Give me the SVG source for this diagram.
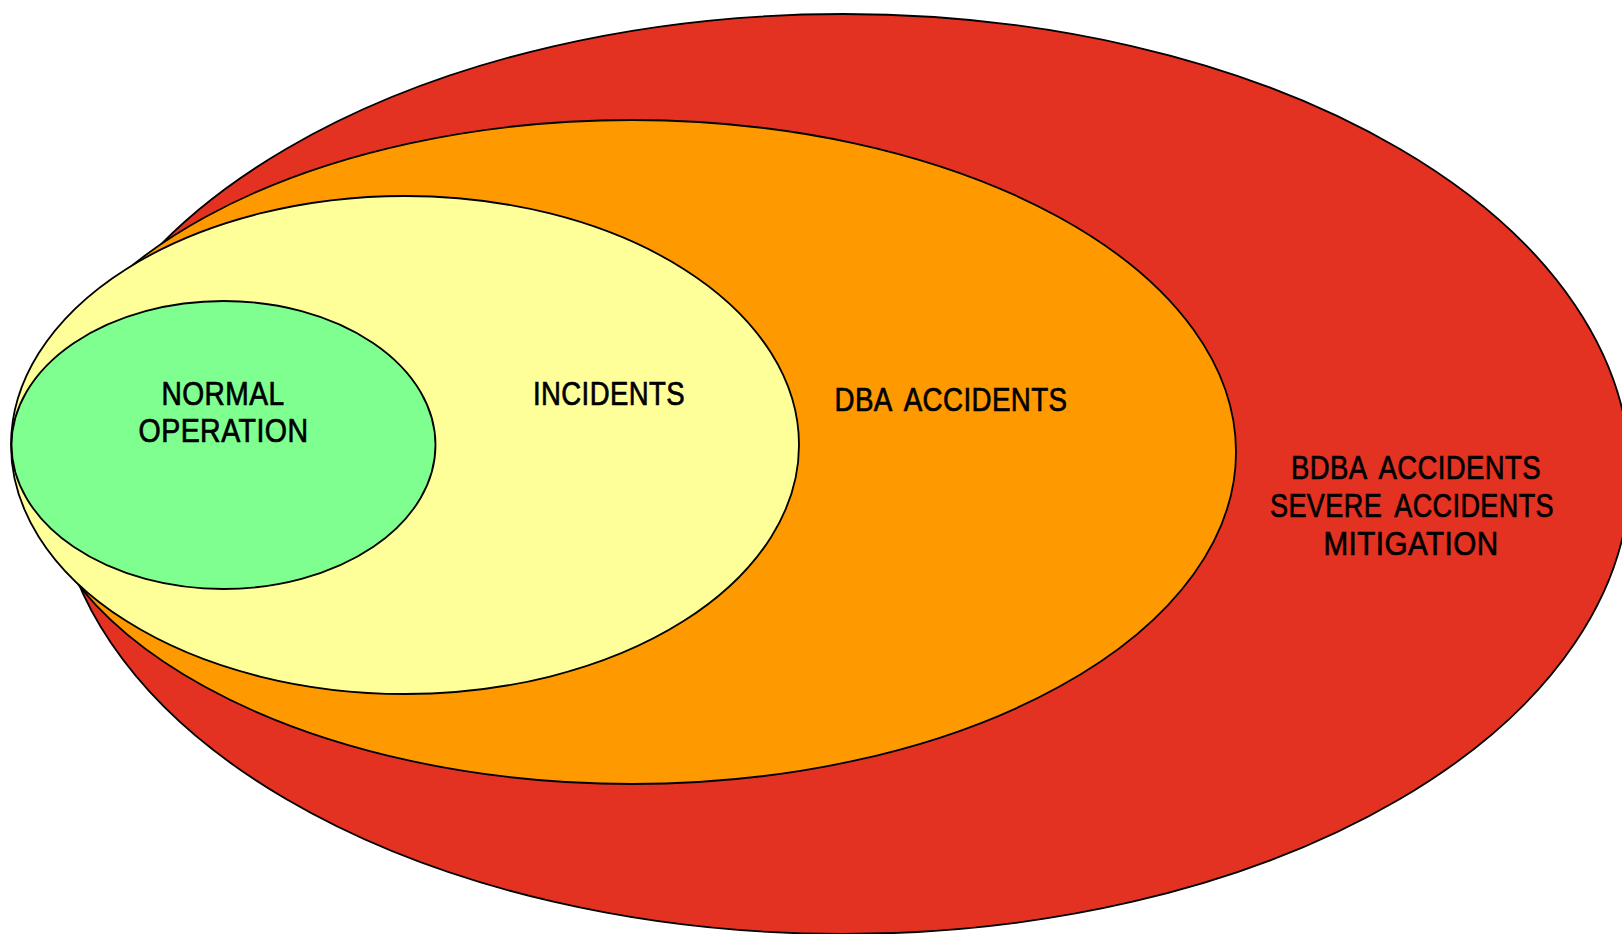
<svg xmlns="http://www.w3.org/2000/svg" width="1622" height="934" viewBox="0 0 1622 934">
<style>
.shape{stroke:#000;stroke-width:1.8}
.lbl{font-family:"Liberation Sans",Arial,sans-serif;font-size:33px;fill:#000;stroke:#000;stroke-width:0.7;text-anchor:middle;word-spacing:7px;letter-spacing:0.5px}
</style>
<rect width="1622" height="934" fill="#fff"/>
<g id="bdba">
<ellipse class="shape" cx="843" cy="474" rx="787" ry="460" fill="#E43222"/>
<text class="lbl" x="1416" y="479" textLength="250" lengthAdjust="spacingAndGlyphs">BDBA ACCIDENTS</text>
<text class="lbl" x="1412" y="517" textLength="284" lengthAdjust="spacingAndGlyphs">SEVERE ACCIDENTS</text>
<text class="lbl" x="1411" y="555" textLength="175" lengthAdjust="spacingAndGlyphs">MITIGATION</text>
</g>
<g id="dba">
<ellipse class="shape" cx="632" cy="452" rx="604" ry="332" fill="#FF9900"/>
<text class="lbl" x="951" y="410.5" textLength="233" lengthAdjust="spacingAndGlyphs">DBA ACCIDENTS</text>
</g>
<g id="incidents">
<ellipse class="shape" cx="405" cy="445" rx="394" ry="249" fill="#FFFF99"/>
<text class="lbl" x="609" y="404.5" textLength="152" lengthAdjust="spacingAndGlyphs">INCIDENTS</text>
</g>
<g id="normal">
<ellipse class="shape" cx="223.5" cy="445" rx="212" ry="144" fill="#7FFF8F"/>
<text class="lbl" x="223" y="404.5" textLength="123" lengthAdjust="spacingAndGlyphs">NORMAL</text>
<text class="lbl" x="223.5" y="442" textLength="170" lengthAdjust="spacingAndGlyphs">OPERATION</text>
</g>
<g id="connectors"/>
</svg>
